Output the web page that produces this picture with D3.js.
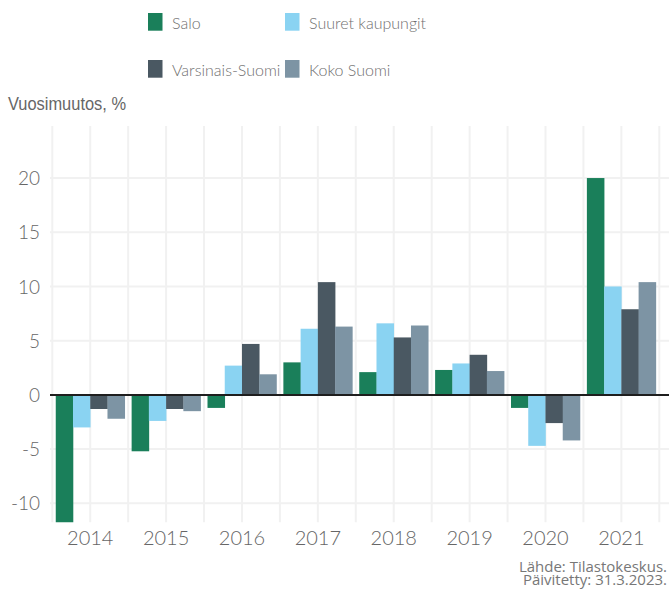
<!DOCTYPE html>
<html>
<head>
<meta charset="UTF-8" />
<title>Vuosimuutos</title>
<script src="https://d3js.org/d3.v7.min.js"></script>
<style>
  body { margin: 0; background: #fff; }
  svg { display: block; }
</style>
</head>
<body>
<svg id="chart" width="669" height="592"></svg>
<script type="text/javascript">
// data
var years = ["2014", "2015", "2016", "2017", "2018", "2019", "2020", "2021"]
var series = ["Salo", "Suuret kaupungit", "Varsinais-Suomi", "Koko Suomi"]
var salo    = [-12.6, -5.2, -1.2, 3.0, 2.1, 2.3, -1.2, 20.0]
var suuret  = [-3.0, -2.4, 2.7, 6.1, 6.6, 2.9, -4.7, 10.0]
var varsin  = [-1.3, -1.3, 4.7, 10.4, 5.3, 3.7, -2.6, 7.9]
var koko    = [-2.2, -1.5, 1.9, 6.3, 6.4, 2.2, -4.2, 10.4]
var yTicks  = [-10, -5, 0, 5, 10, 15, 20]
var colors  = ["#1a7f5a", "#8ad3f2", "#4a5862", "#7d94a4"]
var sourceLines = ["Lähde: Tilastokeskus.", "Päivitetty: 31.3.2023."]

drawChart()

function drawChart(){
	var values = [salo, suuret, varsin, koko]
	var rows = []
	years.forEach(function(yr, i){
		series.forEach(function(s, j){
			rows.push({year: yr, series: s, value: values[j][i], color: colors[j]})
		})
	})

	var svg = d3.select("#chart")
	var plotTop = 126, plotBottom = 522.3, plotLeft = 52.3, plotRight = 659.3

	var x = d3.scaleBand().domain(years).range([plotLeft, plotRight]).padding(0)
	var xIn = d3.scaleBand().domain(series).range([0, x.bandwidth()]).paddingInner(0).paddingOuter(0.2)
	var y = d3.scaleLinear().domain([-11.75, 24.8]).range([plotBottom, plotTop])

	var gridColor = "#f1f1f1"

	// horizontal grid
	svg.append("g").selectAll("line")
		.data(yTicks.filter(function(d){ return d !== 0 }))
		.enter().append("line")
		.attr("x1", 50).attr("x2", 669)
		.attr("y1", function(d){ return y(d) }).attr("y2", function(d){ return y(d) })
		.attr("stroke", gridColor).attr("stroke-width", 2)

	// vertical grid: band edges and centres
	var vx = []
	years.forEach(function(d){ vx.push(x(d)); vx.push(x(d) + x.bandwidth() / 2) })
	vx.push(plotRight)
	svg.append("g").selectAll("line")
		.data(vx)
		.enter().append("line")
		.attr("x1", function(d){ return d }).attr("x2", function(d){ return d })
		.attr("y1", plotTop).attr("y2", plotBottom)
		.attr("stroke", gridColor).attr("stroke-width", 2)

	svg.append("clipPath").attr("id", "plotClip")
		.append("rect").attr("x", 0).attr("y", plotTop).attr("width", 669).attr("height", plotBottom - plotTop)

	// bars
	svg.append("g").attr("clip-path", "url(#plotClip)")
		.selectAll("rect")
		.data(rows)
		.enter().append("rect")
		.attr("x", function(d){ return x(d.year) + xIn(d.series) })
		.attr("width", xIn.bandwidth() + 0.3)
		.attr("y", function(d){ return y(Math.max(0, d.value)) })
		.attr("height", function(d){ return Math.abs(y(d.value) - y(0)) })
		.attr("fill", function(d){ return d.color })

	// zero line
	svg.append("line")
		.attr("x1", 50).attr("x2", 669)
		.attr("y1", y(0)).attr("y2", y(0))
		.attr("stroke", "#1e1e1e").attr("stroke-width", 2)

	// y axis (plain hyphen for negatives, like the original)
	var yAxis = d3.axisLeft(y).tickValues(yTicks).tickSize(0).tickPadding(0)
		.tickFormat(function(d){ return String(d) })
	var gy = svg.append("g").attr("transform", "translate(40,0)").call(yAxis)
	gy.select(".domain").remove()
	gy.selectAll("text")
		.attr("dy", "0.35em")
		.style("font-family", "Lato, sans-serif")
		.style("font-weight", 300)
		.style("font-size", "19px")
		.style("fill", "#666")

	// x axis
	var xAxis = d3.axisBottom(x).tickSize(0).tickPadding(0)
	var gx = svg.append("g").attr("transform", "translate(0,531)").call(xAxis)
	gx.select(".domain").remove()
	gx.selectAll("text")
		.attr("dy", "0.71em")
		.style("font-family", "Lato, sans-serif")
		.style("font-weight", 300)
		.style("font-size", "20px")
		.style("fill", "#666")

	// y title
	svg.append("text")
		.attr("x", 8).attr("y", 110)
		.attr("textLength", 118).attr("lengthAdjust", "spacingAndGlyphs")
		.style("font-family", "'Liberation Sans', Arial, sans-serif")
		.style("font-size", "18.5px")
		.style("fill", "#666")
		.text("Vuosimuutos, %")

	// legend
	var legendPos = [[148, 13], [285, 13], [148, 60], [285, 60]]
	var lg = svg.append("g").selectAll("g")
		.data(series)
		.enter().append("g")
		.attr("transform", function(d, i){ return "translate(" + legendPos[i][0] + "," + legendPos[i][1] + ")" })
	lg.append("rect").attr("width", 14.5).attr("height", 17.7)
		.attr("fill", function(d, i){ return colors[i] })
	lg.append("text")
		.attr("x", 24).attr("y", 15.5)
		.style("font-family", "Lato, sans-serif")
		.style("font-weight", 300)
		.style("font-size", "16px")
		.style("fill", "#6f6f6f")
		.text(function(d){ return d })

	// source
	svg.append("g").selectAll("text")
		.data(sourceLines)
		.enter().append("text")
		.attr("x", 667).attr("y", function(d, i){ return 571.5 + i * 13.5 })
		.attr("text-anchor", "end")
		.style("font-family", "'Open Sans', sans-serif")
		.style("font-size", "15px")
		.style("fill", "#777")
		.text(function(d){ return d })
}
</script>
</body>
</html>
